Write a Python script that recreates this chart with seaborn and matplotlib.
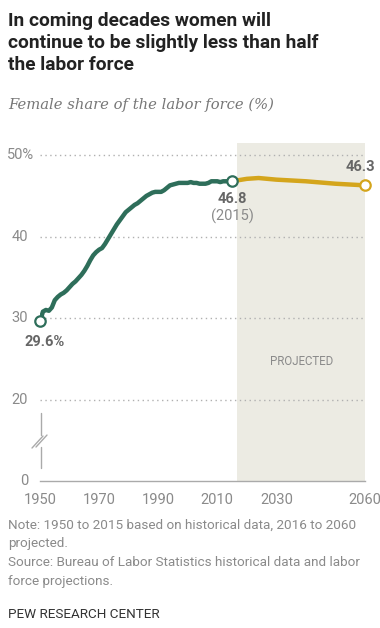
import matplotlib
matplotlib.use("Agg")
import matplotlib.pyplot as plt
import seaborn as sns
import pandas as pd

# ---- data ----
hist_years = list(range(1950, 2016))
hist_share = [29.6, 30.8, 31.0, 30.9, 31.3, 32.2, 32.6, 32.9, 33.1, 33.4,
              33.8, 34.2, 34.5, 34.9, 35.3, 35.8, 36.4, 37.1, 37.7, 38.1,
              38.4, 38.6, 39.1, 39.7, 40.3, 40.9, 41.5, 42.0, 42.5, 43.0,
              43.3, 43.6, 43.9, 44.1, 44.4, 44.7, 45.0, 45.2, 45.4, 45.5,
              45.5, 45.5, 45.7, 46.0, 46.3, 46.4, 46.5, 46.6, 46.6, 46.6,
              46.6, 46.7, 46.6, 46.6, 46.5, 46.5, 46.5, 46.6, 46.8, 46.8,
              46.8, 46.7, 46.8, 46.8, 46.8, 46.8]
proj_years = [2015, 2020, 2024, 2030, 2040, 2050, 2060]
proj_share = [46.8, 47.1, 47.2, 47.0, 46.8, 46.5, 46.3]

x_ticks = list(range(1950, 2061, 10))
x_labels = ["1950", "", "1970", "", "1990", "", "2010", "", "2030", "", "", "2060"]
y_ticks = [10, 20, 30, 40, 50]          # 10 is the position of the broken-axis zero
y_labels = ["0", "20", "30", "40", "50%"]
proj_start = 2016.7

title = "In coming decades women will\ncontinue to be slightly less than half\nthe labor force"
subtitle = "Female share of the labor force (%)"
note = ("Note: 1950 to 2015 based on historical data, 2016 to 2060\nprojected.\n"
        "Source: Bureau of Labor Statistics historical data and labor\nforce projections.")
credit = "PEW RESEARCH CENTER"

GREEN = "#2E6E5A"
GOLD = "#D4A51C"
SHADE = "#ECEBE3"
GRAY = "#8a8a8a"
LABEL = "#666666"

sns.set_style("white")
plt.rcParams["font.family"] = ["Roboto", "DejaVu Sans"]

W, H = 380, 628
fig = plt.figure(figsize=(W / 100, H / 100), dpi=100)
ax = fig.add_axes([40 / W, (H - 481) / H, 325 / W, (481 - 143) / H])

hist = pd.DataFrame({"year": hist_years, "share": hist_share})
proj = pd.DataFrame({"year": proj_years, "share": proj_share})

ax.axvspan(proj_start, 2060, color=SHADE, zorder=0, lw=0)
for yt in y_ticks[1:]:
    ax.axhline(yt, color="#b0b0b0", lw=1, ls=(0, (1, 2.5)), zorder=1)

sns.lineplot(data=proj, x="year", y="share", ax=ax, color=GOLD, lw=3.2,
             zorder=3, solid_capstyle="round")
sns.lineplot(data=hist, x="year", y="share", ax=ax, color=GREEN, lw=3.2,
             zorder=4, solid_capstyle="round")

for yr_, v, c in [(hist_years[0], hist_share[0], GREEN),
                  (hist_years[-1], hist_share[-1], GREEN),
                  (proj_years[-1], proj_share[-1], GOLD)]:
    ax.plot([yr_], [v], marker="o", ms=7.5, mfc="white", mec=c, mew=1.6,
            zorder=6, clip_on=False)

ax.set_xlim(1950, 2060)
ax.set_ylim(10, 51.5)
ax.set_xlabel("")
ax.set_ylabel("")
for s in ["top", "right", "left"]:
    ax.spines[s].set_visible(False)
ax.spines["bottom"].set_color("#aaaaaa")
ax.spines["bottom"].set_linewidth(1)
ax.set_xticks(x_ticks)
ax.set_xticklabels(x_labels)
ax.tick_params(axis="x", direction="out", length=4, width=1, color="#aaaaaa",
               labelsize=10.5, labelcolor=GRAY, pad=5)
ax.set_yticks([])

ytr = ax.get_yaxis_transform()
for yt, lab in zip(y_ticks, y_labels):
    xr = 34.5 if lab.endswith("%") else 28
    ax.text((xr - 40) / 325, yt, lab, transform=ytr, ha="right", va="center",
            fontsize=10.5, color=GRAY)

# axis break marks
def yr(px):
    return 1950 + (px - 40) / 2.955
def pos(py):
    return 20 - (py - 399.5) / 8.15
bx = yr(41)
ax.plot([bx, bx], [pos(413), pos(435)], color="#aaaaaa", lw=1, clip_on=False)
ax.plot([bx, bx], [pos(447), pos(468)], color="#aaaaaa", lw=1, clip_on=False)
ax.plot([yr(32), yr(43)], [pos(448), pos(436)], color="#aaaaaa", lw=1, clip_on=False)
ax.plot([yr(36), yr(47)], [pos(447), pos(435)], color="#aaaaaa", lw=1, clip_on=False)

# annotations
ax.text(1951.7, 27.1, "29.6%", ha="center", va="center", fontsize=10.5,
        fontweight="bold", color=LABEL)
ax.text(2015, 44.6, "46.8", ha="center", va="center", fontsize=10.5,
        fontweight="bold", color=LABEL)
ax.text(2015, 42.5, "(2015)", ha="center", va="center", fontsize=10.5,
        color=GRAY)
ax.text(2058.6, 48.5, "46.3", ha="center", va="center", fontsize=10.5,
        fontweight="bold", color=LABEL)
ax.text(2038.5, 24.7, "PROJECTED", ha="center", va="center", fontsize=8.3,
        color=GRAY)

fig.text(8 / W, 1 - 12 / H, title, ha="left", va="top", fontsize=13.8,
         fontweight="bold", color="#222222", linespacing=1.28)
fig.text(8 / W, 1 - 105 / H, subtitle, ha="left", va="center", fontsize=10.6,
         style="italic", family="DejaVu Serif", color="#777777")
fig.text(8 / W, 1 - 519 / H, note, ha="left", va="top", fontsize=9.7,
         color=GRAY, linespacing=1.55)
fig.text(8 / W, 1 - 615 / H, credit, ha="left", va="center", fontsize=9.7,
         color="#333333")

fig.savefig("out.png", dpi=100)
